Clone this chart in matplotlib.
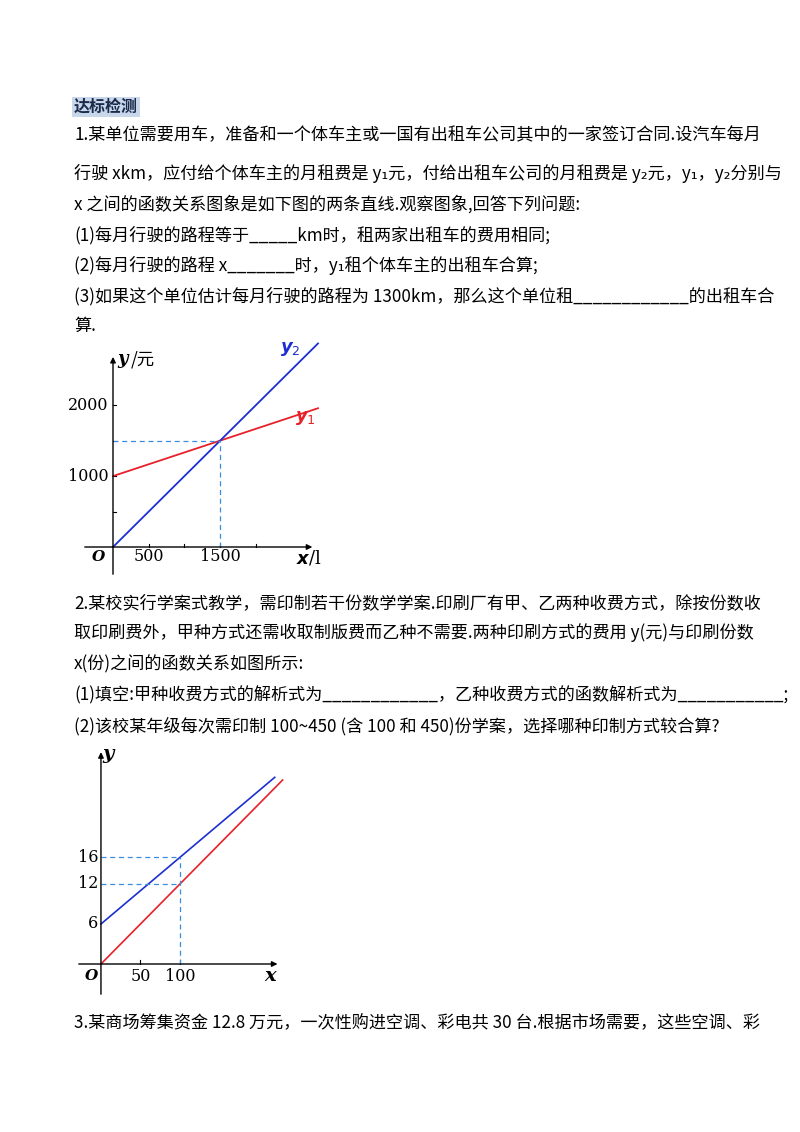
import matplotlib
matplotlib.use("Agg")
import matplotlib.pyplot as plt
import numpy as np

plt.rcParams['font.family'] = ['Noto Sans CJK SC', 'DejaVu Sans']

# Chart 1 data
c1_x = [0, 2870]
c1_y1_intercept, c1_y1_slope = 1000, 1/3
c1_y2_slope = 1.0
c1_meet = (1500, 1500)
c1_xticks = [500, 1500]
c1_yticks = [1000, 2000]
# Chart 2 data
c2_x_blue = [0, 220]
c2_x_red = [0, 230]
c2_blue_intercept, c2_blue_slope = 6, 0.1
c2_red_slope = 0.12
c2_xticks = [50, 100]
c2_yticks = [6, 12, 16]

W, H = 800, 1132
fig = plt.figure(figsize=(8, 11.32), dpi=100)

def T(x, y, s, **kw):
    kw.setdefault('fontsize', 12.3)
    fig.text(x / W, 1 - y / H, s, va='center', ha='left', **kw)

T(74, 107, "达标检测", fontweight='bold', fontsize=11.5, color='#1a2a4a',
  bbox=dict(facecolor='#c9d7ea', edgecolor='none', pad=1.5))
lines1 = [
    (135, "1.某单位需要用车，准备和一个体车主或一国有出租车公司其中的一家签订合同.设汽车每月"),
    (173, "行驶 xkm，应付给个体车主的月租费是 y₁元，付给出租车公司的月租费是 y₂元，y₁，y₂分别与"),
    (204, "x 之间的函数关系图象是如下图的两条直线.观察图象,回答下列问题:"),
    (235, "(1)每月行驶的路程等于_____km时，租两家出租车的费用相同;"),
    (265, "(2)每月行驶的路程 x_______时，y₁租个体车主的出租车合算;"),
    (296, "(3)如果这个单位估计每月行驶的路程为 1300km，那么这个单位租____________的出租车合"),
    (326, "算."),
    (603, "2.某校实行学案式教学，需印制若干份数学学案.印刷厂有甲、乙两种收费方式，除按份数收"),
    (633, "取印刷费外，甲种方式还需收取制版费而乙种不需要.两种印刷方式的费用 y(元)与印刷份数"),
    (664, "x(份)之间的函数关系如图所示:"),
    (695, "(1)填空:甲种收费方式的解析式为____________，乙种收费方式的函数解析式为___________;"),
    (726, "(2)该校某年级每次需印制 100~450 (含 100 和 450)份学案，选择哪种印制方式较合算?"),
    (1022, "3.某商场筹集资金 12.8 万元，一次性购进空调、彩电共 30 台.根据市场需要，这些空调、彩"),
]
for y, s in lines1:
    T(74, y, s)

def axes_px(l, r, b, t):
    return fig.add_axes([l / W, 1 - b / H, (r - l) / W, (b - t) / H])

# ---- Chart 1 ----
ax = axes_px(82, 320, 577, 340)
ax.set_xlim(-434, 2898); ax.set_ylim(-423, 2919)
ax.axis('off')
ax.annotate('', xy=(2830, 0), xytext=(-434, 0),
            arrowprops=dict(arrowstyle='-|>', color='black', lw=1, mutation_scale=8))
ax.annotate('', xy=(0, 2720), xytext=(0, -423),
            arrowprops=dict(arrowstyle='-|>', color='black', lw=1, mutation_scale=8))
for t in [500, 1000, 1500, 2000]:
    ax.plot([t, t], [0, 45], color='black', lw=0.8)
for t in [500, 1000, 1500, 2000]:
    ax.plot([0, 45], [t, t], color='black', lw=0.8)
xs = np.array(c1_x, dtype=float)
ax.plot(xs, c1_y1_intercept + c1_y1_slope * xs, color='#e8202a', lw=1.3)
ax.plot(xs, c1_y2_slope * xs, color='#1d2fd0', lw=1.3)
mx, my = c1_meet
ax.plot([0, mx], [my, my], ls=(0, (4, 3)), color='#3a8ee0', lw=0.9)
ax.plot([mx, mx], [0, my], ls=(0, (4, 3)), color='#3a8ee0', lw=0.9)
for t in c1_xticks:
    ax.text(t, -130, str(t), ha='center', va='center', fontsize=11.5, family='DejaVu Serif')
for t in c1_yticks:
    ax.text(-60, t, str(t), ha='right', va='center', fontsize=11.5, family='DejaVu Serif')
ax.text(-110, -140, 'O', ha='right', va='center', fontsize=11, style='italic', fontweight='bold', family='DejaVu Serif')
ax.text(2560, -160, r'$\boldsymbol{x}$/l', ha='left', va='center', fontsize=13, family='DejaVu Serif')
ax.text(60, 2650, 'y', ha='left', va='center', fontsize=13, style='italic', fontweight='bold', family='DejaVu Serif')
ax.text(250, 2650, '/元', ha='left', va='center', fontsize=12.5)
ax.text(2480, 2790, r'$\boldsymbol{y}_2$', color='#1d2fd0', ha='center', va='center', fontsize=13)
ax.text(2700, 1820, r'$\boldsymbol{y}_1$', color='#e8202a', ha='center', va='center', fontsize=13)

# ---- Chart 2 ----
ax2 = axes_px(76, 285, 997, 748)
ax2.set_xlim(-31.6, 233); ax2.set_ylim(-4.95, 32.4)
ax2.axis('off')
ax2.annotate('', xy=(227, 0), xytext=(-31.6, 0),
             arrowprops=dict(arrowstyle='-|>', color='black', lw=1, mutation_scale=8))
ax2.annotate('', xy=(0, 32.2), xytext=(0, -4.95),
             arrowprops=dict(arrowstyle='-|>', color='black', lw=1, mutation_scale=8))
for t in c2_xticks:
    ax2.plot([t, t], [0, 0.6], color='black', lw=0.8)
xb = np.array(c2_x_blue, dtype=float)
xr = np.array(c2_x_red, dtype=float)
ax2.plot(xb, c2_blue_intercept + c2_blue_slope * xb, color='#1d2fd0', lw=1.2)
ax2.plot(xr, c2_red_slope * xr, color='#e8202a', lw=1.2)
for yv in [16, 12]:
    ax2.plot([0, 100], [yv, yv], ls=(0, (4, 3)), color='#3a8ee0', lw=0.9)
ax2.plot([100, 100], [0, 16], ls=(0, (4, 3)), color='#3a8ee0', lw=0.9)
for t in c2_xticks:
    ax2.text(t, -1.9, str(t), ha='center', va='center', fontsize=11.5, family='DejaVu Serif')
for t in c2_yticks:
    ax2.text(-3, t, str(t), ha='right', va='center', fontsize=11.5, family='DejaVu Serif')
ax2.text(-4, -1.8, 'O', ha='right', va='center', fontsize=11, style='italic', fontweight='bold', family='DejaVu Serif')
ax2.text(214, -1.8, 'x', ha='center', va='center', fontsize=14, style='italic', fontweight='bold', family='DejaVu Serif')
ax2.text(9, 31.5, 'y', ha='center', va='center', fontsize=14, style='italic', fontweight='bold', family='DejaVu Serif')

fig.savefig('out.png', dpi=100)
